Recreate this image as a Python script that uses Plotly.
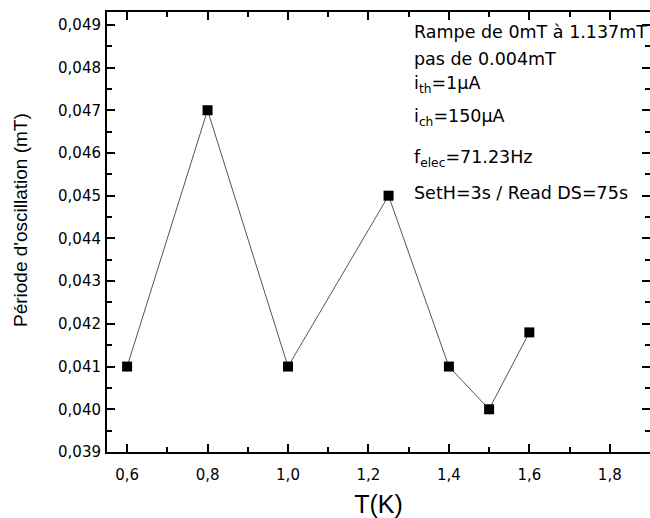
import plotly.graph_objects as go

temperature_K = [0.6, 0.8, 1.0, 1.25, 1.4, 1.5, 1.6]
period_mT = [0.041, 0.047, 0.041, 0.045, 0.041, 0.040, 0.0418]

x_title = "T(K)"
y_title = "Période d'oscillation (mT)"
info_lines = [
    "Rampe de 0mT à 1.137mT",
    "pas de 0.004mT",
    "i<sub>th</sub>=1µA",
    "i<sub>ch</sub>=150µA",
    "f<sub>elec</sub>=71.23Hz",
    "SetH=3s / Read DS=75s",
]

W, H = 650, 518
L, R, T, B = 107, 0, 12, 66
pw, ph = W - L - R, H - T - B


def px_x(xw):
    return (xw - L) / pw


def px_y(yw):
    return (H - B - yw) / ph


info_y_px = [32, 59, 84, 117, 158, 193]

FONT = "DejaVu Sans"
TFONT = "Liberation Sans"

fig = go.Figure()
fig.add_trace(go.Scatter(
    x=temperature_K, y=period_mT, mode="lines+markers",
    line=dict(color="#555555", width=1),
    marker=dict(symbol="square", size=10, color="black"),
    showlegend=False,
))

axis_common = dict(
    showline=True, linecolor="black", linewidth=2,
    ticks="inside", ticklen=8, tickwidth=2, tickcolor="black",
    mirror="ticks", showgrid=False, zeroline=False, automargin=False,
    tickfont=dict(family=FONT, size=15, color="black"),
)

fig.update_xaxes(
    range=[0.55, 1.9], dtick=0.2, tick0=0.6, tickformat=".1f",
    minor=dict(ticks="inside", ticklen=5, tickwidth=1.5, dtick=0.1, tickcolor="black"),
    title=dict(text=x_title, font=dict(family=TFONT, size=25, color="black"), standoff=18),
    ticklabelstandoff=8,
    **axis_common,
)
fig.update_yaxes(
    range=[0.039, 0.0493], dtick=0.001, tick0=0.039, tickformat=".3f",
    minor=dict(ticks="inside", ticklen=5, tickwidth=1.5, dtick=0.0005, tickcolor="black"),
    ticklabelstandoff=1,
    **axis_common,
)

fig.add_annotation(
    text=y_title, xref="paper", yref="paper",
    x=px_x(20), y=px_y(220), xanchor="center", yanchor="middle",
    textangle=-90, showarrow=False,
    font=dict(family=TFONT, size=19, color="black"),
)

for txt, ypx in zip(info_lines, info_y_px):
    fig.add_annotation(
        text=txt, xref="paper", yref="paper",
        x=px_x(412), y=px_y(ypx),
        xanchor="left", yanchor="middle", showarrow=False,
        font=dict(family=FONT, size=17.5, color="black"),
    )

fig.update_layout(
    width=W, height=H,
    margin=dict(l=L, r=R, t=T, b=B),
    plot_bgcolor="white", paper_bgcolor="white",
    separators=",.",
    font=dict(family=FONT, color="black"),
)

fig.write_html(
    "out.html",
    config={"displayModeBar": False},
    post_script="document.body.style.margin='0';document.body.style.overflow='hidden';",
)
